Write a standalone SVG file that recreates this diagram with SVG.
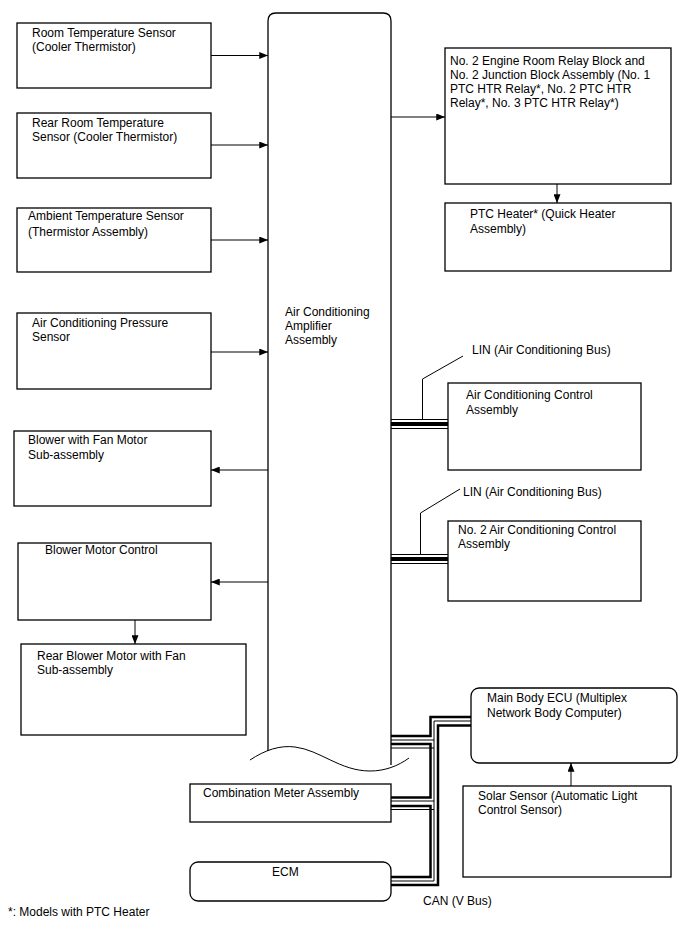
<svg xmlns="http://www.w3.org/2000/svg" width="688" height="949" viewBox="0 0 688 949">
<defs>
<style>
.box{fill:#fff;stroke:#000;stroke-width:1.3}
.t{font-family:"Liberation Sans",Arial,sans-serif;font-size:12px;fill:#000}
.ln{stroke:#000;stroke-width:1;fill:none}
.ar{stroke:#000;stroke-width:1;fill:none;marker-end:url(#arr)}
.tk{stroke:#000;stroke-width:2.5;fill:none}
.bus{stroke:#000;stroke-width:4;fill:none}
</style>
<marker id="arr" viewBox="0 0 10 8" refX="10" refY="4" markerWidth="9" markerHeight="7" markerUnits="userSpaceOnUse" orient="auto">
<path d="M0,0 L10,4 L0,8 z" fill="#000"/>
</marker>
</defs>
<rect width="688" height="949" fill="#fff"/>

<g id="amplifier">
<path class="box" d="M268,751 V21 Q268,13 276,13 H383 Q391,13 391,21 V765"/>
<text class="t" x="285" y="316">Air Conditioning</text>
<text class="t" x="285" y="330">Amplifier</text>
<text class="t" x="285" y="344">Assembly</text>
</g>
<path class="ln" d="M250,760 C265,750 280,745 295,747 C320,750 340,771 370,771 C385,771 398,766 409,758" stroke-width="1.2"/>

<g id="room-temp">
<rect class="box" x="17" y="23" width="194" height="65"/>
<text class="t" x="32" y="37">Room Temperature Sensor</text>
<text class="t" x="32" y="51">(Cooler Thermistor)</text>
</g>
<g id="rear-room-temp">
<rect class="box" x="17" y="113" width="194" height="65"/>
<text class="t" x="32" y="127">Rear Room Temperature</text>
<text class="t" x="32" y="141">Sensor (Cooler Thermistor)</text>
</g>
<g id="ambient">
<rect class="box" x="17" y="208" width="194" height="64"/>
<text class="t" x="28" y="220">Ambient Temperature Sensor</text>
<text class="t" x="28" y="236">(Thermistor Assembly)</text>
</g>
<g id="pressure">
<rect class="box" x="17" y="313" width="194" height="76"/>
<text class="t" x="32" y="327">Air Conditioning Pressure</text>
<text class="t" x="32" y="341">Sensor</text>
</g>
<g id="blower">
<rect class="box" x="14" y="431" width="197" height="75"/>
<text class="t" x="28" y="444">Blower with Fan Motor</text>
<text class="t" x="28" y="459">Sub-assembly</text>
</g>
<g id="blower-control">
<rect class="box" x="18" y="543" width="193" height="77"/>
<text class="t" x="45" y="554">Blower Motor Control</text>
</g>
<g id="rear-blower">
<rect class="box" x="21" y="644" width="225" height="91"/>
<text class="t" x="37" y="660">Rear Blower Motor with Fan</text>
<text class="t" x="37" y="674">Sub-assembly</text>
</g>

<g id="relay-block">
<rect class="box" x="445" y="48" width="226" height="136"/>
<text class="t" x="450" y="65">No. 2 Engine Room Relay Block and</text>
<text class="t" x="450" y="79">No. 2 Junction Block Assembly (No. 1</text>
<text class="t" x="450" y="93">PTC HTR Relay*, No. 2 PTC HTR</text>
<text class="t" x="450" y="107">Relay*, No. 3 PTC HTR Relay*)</text>
</g>
<g id="ptc-heater">
<rect class="box" x="445" y="203" width="226" height="68"/>
<text class="t" x="470" y="218">PTC Heater* (Quick Heater</text>
<text class="t" x="470" y="233">Assembly)</text>
</g>
<g id="ac-control">
<rect class="box" x="448" y="383" width="193" height="87"/>
<text class="t" x="466" y="399">Air Conditioning Control</text>
<text class="t" x="466" y="414">Assembly</text>
</g>
<g id="ac-control-2">
<rect class="box" x="448" y="521" width="193" height="80"/>
<text class="t" x="458" y="534">No. 2 Air Conditioning Control</text>
<text class="t" x="458" y="548">Assembly</text>
</g>
<g id="main-body-ecu">
<rect class="box" x="471" y="688" width="206" height="75" rx="8"/>
<text class="t" x="487" y="702">Main Body ECU (Multiplex</text>
<text class="t" x="487" y="717">Network Body Computer)</text>
</g>
<g id="solar-sensor">
<rect class="box" x="463" y="786" width="208" height="91"/>
<text class="t" x="478" y="800">Solar Sensor (Automatic Light</text>
<text class="t" x="478" y="814">Control Sensor)</text>
</g>
<g id="combination-meter">
<rect class="box" x="190" y="784" width="201" height="38"/>
<text class="t" x="203" y="797">Combination Meter Assembly</text>
</g>
<g id="ecm">
<rect class="box" x="190" y="862" width="201" height="39" rx="8"/>
<text class="t" x="272" y="876">ECM</text>
</g>

<g id="connectors">
<line class="ar" x1="211" y1="55.5" x2="268" y2="55.5"/>
<line class="ar" x1="211" y1="145" x2="268" y2="145"/>
<line class="ar" x1="211" y1="240" x2="268" y2="240"/>
<line class="ar" x1="211" y1="352" x2="268" y2="352"/>
<line class="ar" x1="268" y1="470" x2="211" y2="470"/>
<line class="ar" x1="268" y1="582" x2="211" y2="582"/>
<line class="ar" x1="135" y1="620" x2="135" y2="644"/>
<line class="ar" x1="391" y1="117" x2="445" y2="117"/>
<line class="ar" x1="557" y1="184" x2="557" y2="203"/>
<line class="ar" x1="571" y1="786" x2="571" y2="763"/>

<line class="ln" x1="391" y1="419.5" x2="448" y2="419.5"/>
<line class="bus" x1="391" y1="424" x2="448" y2="424"/>
<line class="ln" x1="391" y1="428.5" x2="448" y2="428.5"/>
<path class="ln" d="M422.5,420 V379 L463,356"/>

<line class="ln" x1="391" y1="554.5" x2="448" y2="554.5"/>
<line class="bus" x1="391" y1="559" x2="448" y2="559"/>
<line class="ln" x1="391" y1="563.5" x2="448" y2="563.5"/>
<path class="ln" d="M420.5,555 V513 L460,489"/>

<path class="tk" d="M391,736 H430.5 V717 H471"/>
<path class="ln" d="M391,740 H434 V721 H471"/>
<path class="tk" d="M471,725.5 H438 V885 H391"/>
<path class="tk" d="M391,744 H430.5 V797.5 H391"/>
<path class="ln" d="M434,740 V881 H391"/>
<path class="ln" d="M391,801 H434"/>
<path class="tk" d="M391,806 H430.5 V877 H391"/>
<path class="ln" d="M391,809.5 H434"/>
<path class="ln" d="M391,748 H434"/>
</g>

<text class="t" x="472" y="354">LIN (Air Conditioning Bus)</text>
<text class="t" x="463" y="496">LIN (Air Conditioning Bus)</text>
<text class="t" x="423" y="905">CAN (V Bus)</text>
<text class="t" x="8" y="916" font-size="11">*: Models with PTC Heater</text>
</svg>
